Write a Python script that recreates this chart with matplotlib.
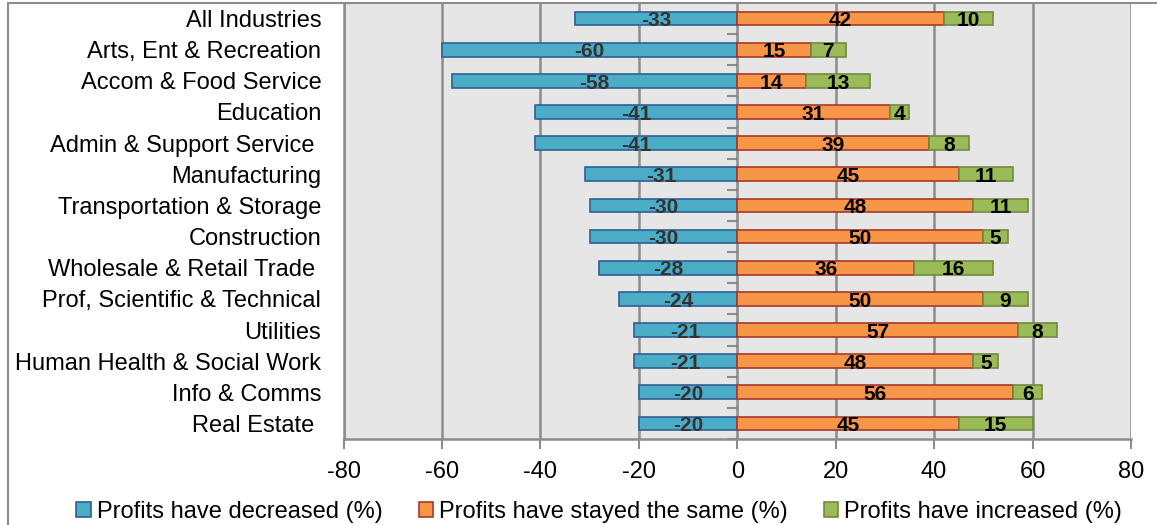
# Profit change by industry: diverging stacked bar chart
import numpy as np
import matplotlib.pyplot as plt
from matplotlib.patches import Rectangle

plt.rcParams['font.family'] = ['Liberation Sans', 'DejaVu Sans']

industries = ['All Industries', 'Arts, Ent & Recreation', 'Accom & Food Service',
              'Education', 'Admin & Support Service ', 'Manufacturing',
              'Transportation & Storage', 'Construction', 'Wholesale & Retail Trade ',
              'Prof, Scientific & Technical', 'Utilities', 'Human Health & Social Work',
              'Info & Comms', 'Real Estate ']
decreased = [-33, -60, -58, -41, -41, -31, -30, -30, -28, -24, -21, -21, -20, -20]
same = [42, 15, 14, 31, 39, 45, 48, 50, 36, 50, 57, 48, 56, 45]
increased = [10, 7, 13, 4, 8, 11, 11, 5, 16, 9, 8, 5, 6, 15]
xticks = [-80, -60, -40, -20, 0, 20, 40, 60, 80]

decreased = np.array(decreased)
same = np.array(same)
increased = np.array(increased)
y = np.arange(len(industries))

fig = plt.figure(figsize=(11.57, 5.25), dpi=100)
ax = fig.add_axes([0.2969, 0.1638, 0.6806, 0.8305])
ax.set_facecolor('#e6e6e6')

h = 0.44
b1 = ax.barh(y, decreased, height=h, color='#4bacc6', edgecolor='#2f5f98', linewidth=1.2,
             label='Profits have decreased (%)', zorder=3)
b2 = ax.barh(y, same, height=h, color='#f79646', edgecolor='#a8382b', linewidth=1.2,
             label='Profits have stayed the same (%)', zorder=3)
b3 = ax.barh(y, increased, left=same, height=h, color='#9bbb59', edgecolor='#71893f',
             linewidth=1.2, label='Profits have increased (%)', zorder=3)

# value labels, sitting a touch below the bar centre
dy = 0.07
for i in range(len(industries)):
    ax.text(decreased[i] / 2, y[i] + dy, str(decreased[i]), ha='center', va='center',
            fontsize=15, fontweight='bold', color='#333333', zorder=4)
    ax.text(same[i] / 2, y[i] + dy, str(same[i]), ha='center', va='center',
            fontsize=15, fontweight='bold', color='black', zorder=4)
    ax.text(same[i] + increased[i] / 2, y[i] + dy, str(increased[i]), ha='center', va='center',
            fontsize=15, fontweight='bold', color='black', zorder=4)

ax.set_xlim(-80, 80)
ax.set_ylim(len(industries) - 0.5, -0.5)
ax.set_xticks(xticks)
ax.set_xticklabels([str(t) for t in xticks], fontsize=17)
ax.set_yticks(y)
ax.set_yticklabels(industries, fontsize=17)
ax.tick_params(axis='y', length=0, pad=16)
ax.tick_params(axis='x', length=7, width=1.5, color='#8c8c8c', pad=9)
ax.grid(axis='x', color='#8c8c8c', linewidth=1.8, zorder=1)
ax.set_axisbelow(True)
for s in ['top', 'right']:
    ax.spines[s].set_visible(False)
for s in ['left', 'bottom']:
    ax.spines[s].set_color('#8c8c8c')
    ax.spines[s].set_linewidth(1.8)

# category axis ticks sitting on the zero line
cat = ax.secondary_yaxis(0.5)
cat.spines['left'].set_visible(False)
cat.set_yticks(np.arange(-0.5, len(industries), 1.0))
cat.set_yticklabels([])
cat.tick_params(axis='y', length=7, width=1.5, color='#8c8c8c', direction='in')

# chart border
fig.add_artist(Rectangle((8 / 1157, -0.1), 1.2, 1 - 3 / 525 + 0.1, transform=fig.transFigure,
                         fill=False, edgecolor='#8c8c8c', linewidth=1.5))

fig.legend(handles=[b1, b2, b3], loc='center', bbox_to_anchor=(0.518, 0.025), ncol=3,
           frameon=False, fontsize=17, handlelength=0.6, handleheight=0.6,
           handletextpad=0.25, columnspacing=1.55, borderaxespad=0)

fig.savefig('out.png', dpi=100)
